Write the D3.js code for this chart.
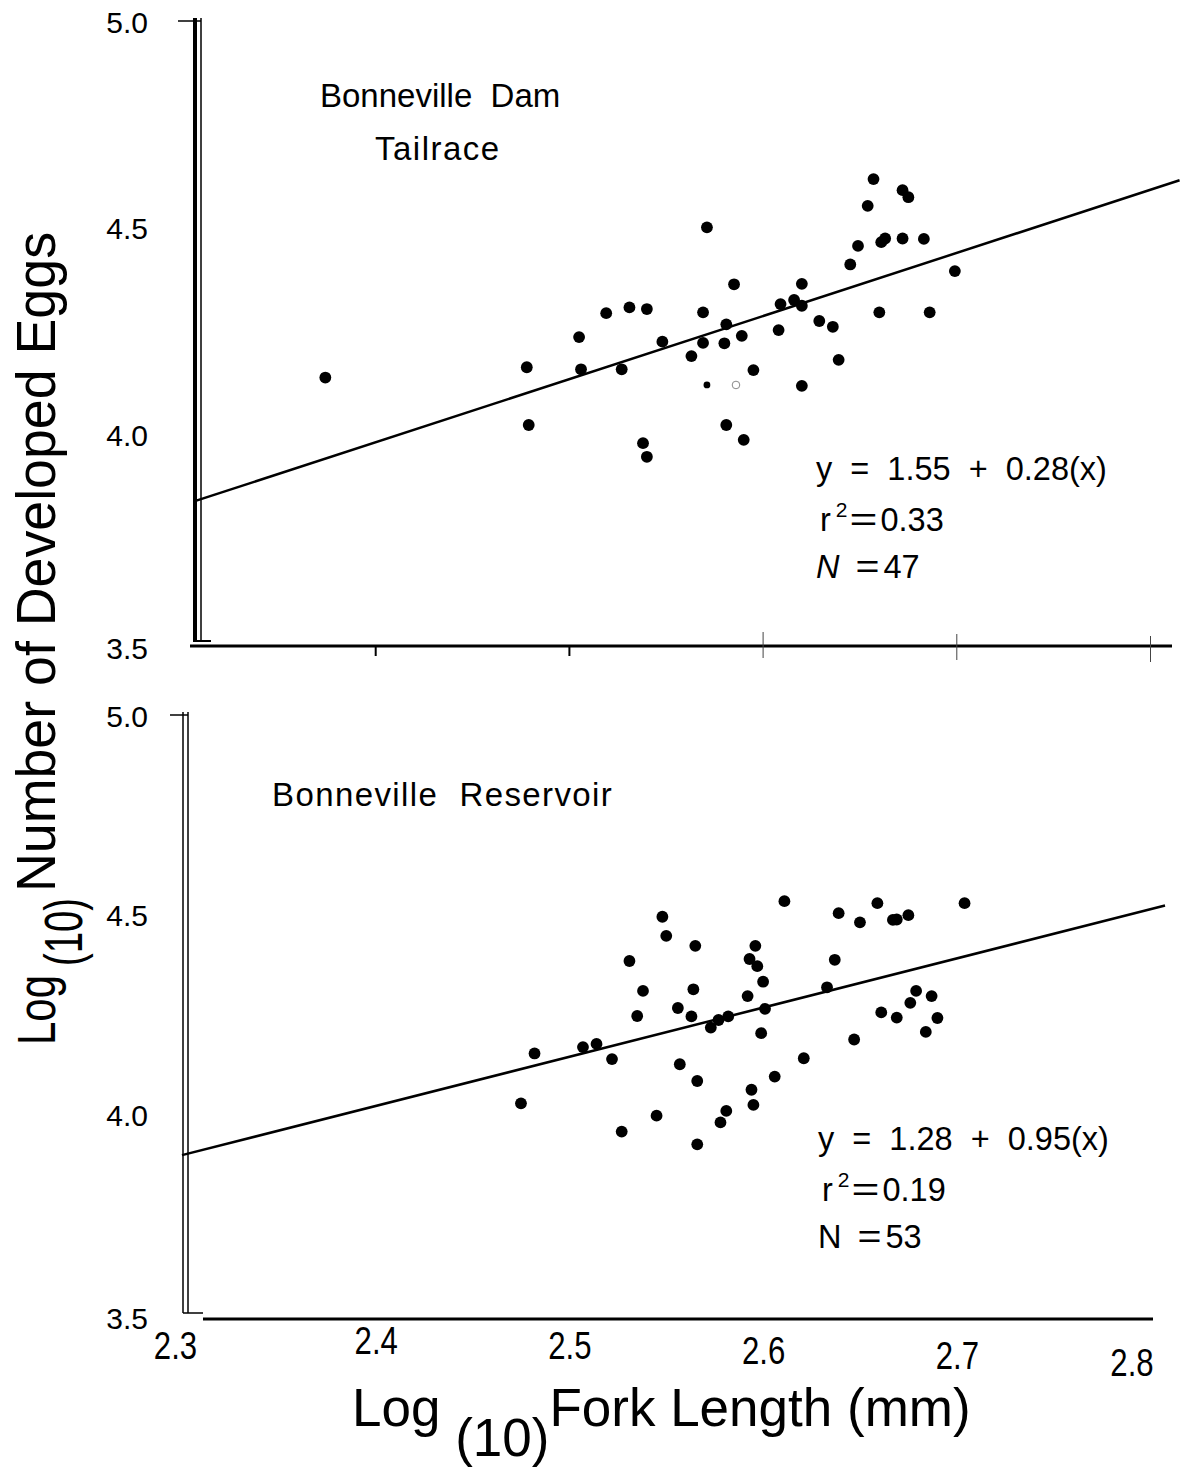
<!DOCTYPE html>
<html><head><meta charset="utf-8">
<script src="https://cdn.jsdelivr.net/npm/d3@7"></script>
<style>
html,body{margin:0;padding:0;background:#fff;}
text{font-family:"Liberation Sans",Arial,Helvetica,sans-serif;fill:#000;}
</style></head>
<body><svg id="chart" width="1187" height="1467"></svg>
<script>
// ---- data ----
const xTicks = [2.3, 2.4, 2.5, 2.6, 2.7, 2.8];
const yTicks = [3.5, 4.0, 4.5, 5.0];
const xTickLabels = ["2.3", "2.4", "2.5", "2.6", "2.7", "2.8"];
const yTickLabels = ["3.5", "4.0", "4.5", "5.0"];

// Bonneville Dam Tailrace (log10 fork length, log10 eggs)
const tailraceX = [2.374, 2.478, 2.479, 2.505, 2.506, 2.519, 2.531, 2.540, 2.527, 2.548, 2.563, 2.538, 2.540,
  2.569, 2.571, 2.569, 2.580, 2.581, 2.585, 2.589, 2.595, 2.581, 2.590, 2.620, 2.608, 2.609, 2.616,
  2.620, 2.620, 2.629, 2.636, 2.639, 2.645, 2.649, 2.654, 2.657, 2.661, 2.663, 2.672, 2.675, 2.672,
  2.683, 2.660, 2.686, 2.699];
const tailraceY = [4.136, 4.161, 4.021, 4.234, 4.156, 4.292, 4.306, 4.302, 4.156, 4.223, 4.188, 3.977, 3.944,
  4.294, 4.500, 4.220, 4.219, 4.265, 4.362, 4.237, 4.154, 4.021, 3.985, 4.116, 4.251, 4.314, 4.324,
  4.310, 4.363, 4.273, 4.259, 4.179, 4.410, 4.455, 4.552, 4.617, 4.464, 4.473, 4.590, 4.573, 4.473,
  4.472, 4.294, 4.294, 4.394];
const tailraceSmallX = [2.571];
const tailraceSmallY = [4.118];
const tailraceFaintX = [2.586];
const tailraceFaintY = [4.118];
const tailraceFitX = [2.307, 2.815];
const tailraceFitY = [3.837, 4.614];
const tailraceStats = ["y  =  1.55  +  0.28(x)", "0.33", "47"];

// Bonneville Reservoir
const reservoirX = [2.475, 2.482, 2.507, 2.514, 2.522, 2.527, 2.531, 2.538, 2.535, 2.545, 2.548, 2.550,
  2.557, 2.556, 2.565, 2.564, 2.563, 2.566, 2.566, 2.573, 2.577, 2.582, 2.578, 2.581, 2.596, 2.593,
  2.597, 2.600, 2.592, 2.601, 2.599, 2.594, 2.595, 2.606, 2.611, 2.621, 2.637, 2.633, 2.639, 2.647,
  2.650, 2.659, 2.667, 2.669, 2.675, 2.704, 2.661, 2.669, 2.676, 2.679, 2.687, 2.690, 2.684];
const reservoirY = [4.026, 4.151, 4.167, 4.175, 4.137, 3.955, 4.383, 4.308, 4.245, 3.995, 4.494, 4.446,
  4.124, 4.265, 4.421, 4.312, 4.244, 4.082, 3.923, 4.216, 4.235, 4.244, 3.978, 4.007, 4.421, 4.388,
  4.370, 4.331, 4.295, 4.263, 4.202, 4.060, 4.022, 4.093, 4.533, 4.139, 4.386, 4.317, 4.503, 4.186,
  4.480, 4.528, 4.486, 4.487, 4.498, 4.528, 4.254, 4.241, 4.278, 4.308, 4.295, 4.240, 4.205];
const reservoirFitX = [2.3, 2.8075];
const reservoirFitY = [3.896, 4.522];
const reservoirStats = ["y  =  1.28  +  0.95(x)", "0.19", "53"];

// ---- drawing ----
const svg = d3.select("#chart");
const x = d3.scaleLinear().domain([2.3, 2.8]).range([182, 1150.5]);
const yTop = d3.scaleLinear().domain([3.5, 5.0]).range([640, 21]);
const yBot = d3.scaleLinear().domain([3.5, 5.0]).range([1313, 715]);
const zip = (a, b) => a.map((v, i) => [v, b[i]]);
const DOT_R = 5.9;

function line(x1, y1, x2, y2, w, c) {
  svg.append("line").attr("x1", x1).attr("y1", y1).attr("x2", x2).attr("y2", y2)
    .attr("stroke", c || "#000").attr("stroke-width", w);
}

// ---------- TOP PANEL ----------
line(195, 18, 195, 641, 4);
line(201, 18, 201, 641, 1.5);
line(178, yTop(5.0), 201, yTop(5.0), 1.5);
line(193, 641, 211, 641, 2);
const gYT = svg.append("g").attr("transform", "translate(195,0)")
  .call(d3.axisLeft(yTop).tickValues(yTicks).tickSize(0).tickPadding(47)
    .tickFormat((d, i) => yTickLabels[i]));
gYT.select(".domain").remove();
gYT.selectAll("text").attr("font-size", 30).attr("font-family", "Liberation Sans, Arial, sans-serif")
  .attr("dy", (d) => d === 3.5 ? "0.62em" : "0.38em");
line(190, 646, 1172, 646, 3);
xTicks.slice(1, 3).forEach(v => line(x(v), 646, x(v), 656, 2));
xTicks.slice(3).forEach((v, i) => line(x(v), 632 + i * 2, x(v), 658 + i * 2, 1, "#444"));

svg.append("path").datum(zip(tailraceFitX, tailraceFitY))
  .attr("d", d3.line().x(d => x(d[0])).y(d => yTop(d[1])))
  .attr("stroke", "#000").attr("stroke-width", 2.5).attr("fill", "none");
svg.append("g").selectAll("circle").data(zip(tailraceX, tailraceY)).join("circle")
  .attr("cx", d => x(d[0])).attr("cy", d => yTop(d[1])).attr("r", DOT_R).attr("fill", "#000");
svg.append("g").selectAll("circle").data(zip(tailraceSmallX, tailraceSmallY)).join("circle")
  .attr("cx", d => x(d[0])).attr("cy", d => yTop(d[1])).attr("r", 3.4).attr("fill", "#000");
svg.append("g").selectAll("circle").data(zip(tailraceFaintX, tailraceFaintY)).join("circle")
  .attr("cx", d => x(d[0])).attr("cy", d => yTop(d[1])).attr("r", 3.8)
  .attr("fill", "none").attr("stroke", "#888").attr("stroke-width", 1);

svg.append("text").attr("x", 320).attr("y", 107).attr("font-size", 33)
  .style("white-space", "pre").text("Bonneville  Dam");
svg.append("text").attr("x", 375).attr("y", 160).attr("font-size", 33)
  .attr("letter-spacing", 1.5).text("Tailrace");

function stats(x0, yb, s, italicN) {
  svg.append("text").attr("x", x0).attr("y", yb).attr("font-size", 32.5)
    .style("white-space", "pre").text(s[0]);
  const r = svg.append("text").attr("x", x0 + 4).attr("y", yb + 51).attr("font-size", 32.5).style("white-space", "pre");
  r.append("tspan").text("r");
  r.append("tspan").attr("font-size", 21).attr("dx", 5).attr("dy", -14).text("2");
  r.append("tspan").attr("dy", 14).attr("dx", 2).attr("textLength", 28).attr("lengthAdjust", "spacingAndGlyphs").text("=");
  r.append("tspan").attr("dx", 3).text(s[1]);
  const n = svg.append("text").attr("x", x0).attr("y", yb + 98).attr("font-size", 32.5).style("white-space", "pre");
  n.append("tspan").attr("font-style", italicN ? "italic" : "normal").text("N");
  n.append("tspan").attr("dx", 16).attr("textLength", 24).attr("lengthAdjust", "spacingAndGlyphs").text("=");
  n.append("tspan").attr("dx", 4).text(s[2]);
}
stats(816, 480, tailraceStats, true);

// ---------- BOTTOM PANEL ----------
line(183, 712, 183, 1313, 1.5);
line(188, 712, 188, 1313, 1.5);
line(170, yBot(5.0), 188, yBot(5.0), 1.5);
line(183, 1313, 203, 1313, 1.5);
const gYB = svg.append("g").attr("transform", "translate(183,0)")
  .call(d3.axisLeft(yBot).tickValues(yTicks).tickSize(0).tickPadding(35)
    .tickFormat((d, i) => yTickLabels[i]));
gYB.select(".domain").remove();
gYB.selectAll("text").attr("font-size", 30).attr("font-family", "Liberation Sans, Arial, sans-serif")
  .attr("dy", (d) => d === 3.5 ? "0.5em" : "0.38em");

line(203, 1319, 1153, 1319, 3);
const xLabelDx = [-7, 0, 0, 0, 0, -19];
const xLabelDy = [0, -5, 0, 5, 10, 17];
const gX = svg.append("g").attr("transform", "translate(0,1319)")
  .call(d3.axisBottom(x).tickValues(xTicks).tickSize(0).tickPadding(0)
    .tickFormat((d, i) => xTickLabels[i]));
gX.select(".domain").remove();
gX.selectAll("text").attr("font-size", 38).attr("font-family", "Liberation Sans, Arial, sans-serif")
  .attr("dy", null).attr("y", null)
  .attr("transform", (d, i) => `translate(${xLabelDx[i]},${40 + xLabelDy[i]}) scale(0.82,1)`);

svg.append("path").datum(zip(reservoirFitX, reservoirFitY))
  .attr("d", d3.line().x(d => x(d[0])).y(d => yBot(d[1])))
  .attr("stroke", "#000").attr("stroke-width", 2.5).attr("fill", "none");
svg.append("g").selectAll("circle").data(zip(reservoirX, reservoirY)).join("circle")
  .attr("cx", d => x(d[0])).attr("cy", d => yBot(d[1])).attr("r", DOT_R).attr("fill", "#000");

svg.append("text").attr("x", 272).attr("y", 806).attr("font-size", 33)
  .attr("letter-spacing", 1.4).style("white-space", "pre").text("Bonneville  Reservoir");
stats(818, 1150, reservoirStats, false);

// ---------- AXIS TITLES ----------
const xt = svg.append("text").attr("x", 352).attr("y", 1426).attr("font-size", 53);
xt.append("tspan").text("Log ");
xt.append("tspan").attr("dy", 30).text("(10)");
xt.append("tspan").attr("dy", -30).text("Fork Length (mm)");

const ytG = svg.append("g").attr("transform", "translate(55,0) rotate(-90)");
ytG.append("text").attr("x", -1045).attr("y", 0).attr("font-size", 54)
  .attr("textLength", 70).attr("lengthAdjust", "spacingAndGlyphs").text("Log");
ytG.append("text").attr("x", -966).attr("y", 27).attr("font-size", 54)
  .attr("textLength", 68).attr("lengthAdjust", "spacingAndGlyphs").text("(10)");
ytG.append("text").attr("x", -892).attr("y", 0).attr("font-size", 56)
  .attr("textLength", 660).attr("lengthAdjust", "spacingAndGlyphs").text("Number of Developed Eggs");
</script></body></html>
